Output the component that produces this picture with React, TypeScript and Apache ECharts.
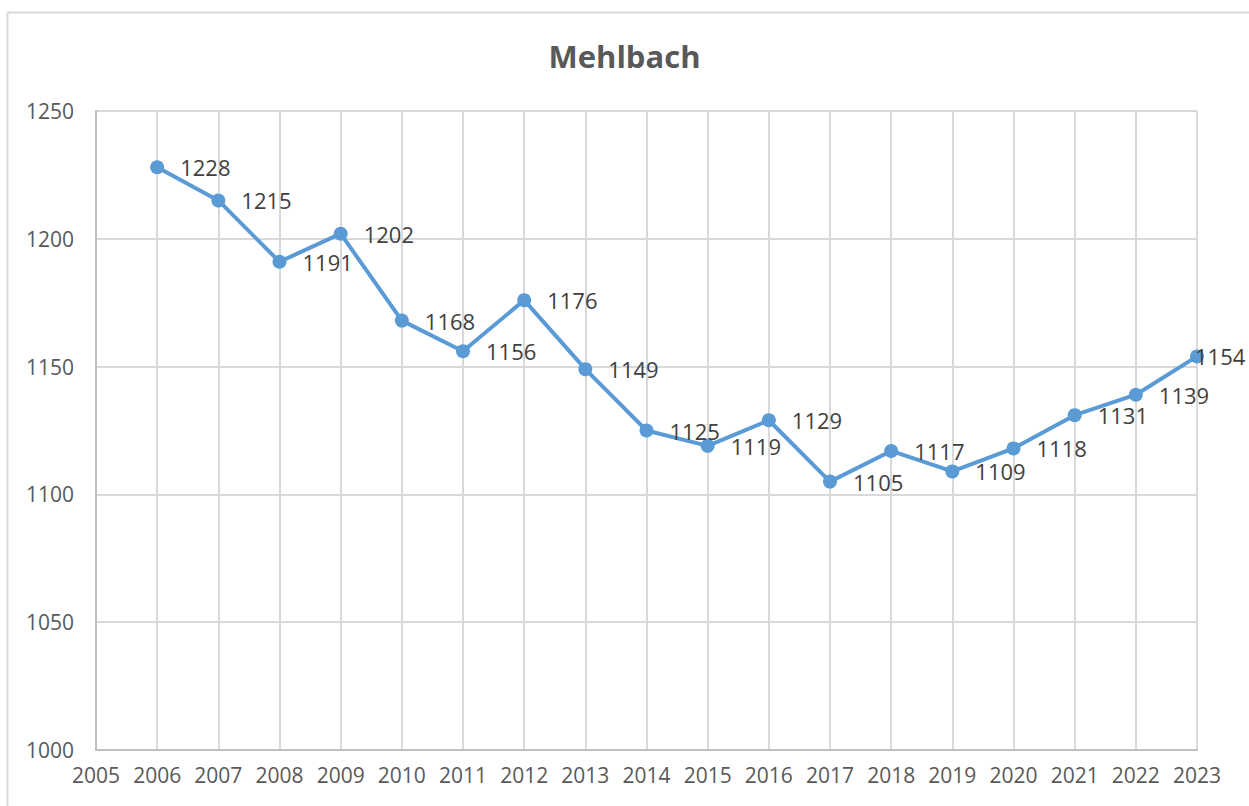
import React, { useEffect, useRef } from "react";
import * as echarts from "echarts";

const title = "Mehlbach";
const years = [2006, 2007, 2008, 2009, 2010, 2011, 2012, 2013, 2014, 2015, 2016, 2017, 2018, 2019, 2020, 2021, 2022, 2023];
const population = [1228, 1215, 1191, 1202, 1168, 1156, 1176, 1149, 1125, 1119, 1129, 1105, 1117, 1109, 1118, 1131, 1139, 1154];
const xMin = 2005;
const xMax = 2023;
const yMin = 1000;
const yMax = 1250;
const yStep = 50;

export default function App() {
  const ref = useRef<HTMLDivElement>(null);
  useEffect(() => {
    if (!ref.current) return;
    const chart = echarts.init(ref.current, undefined, { renderer: "svg" });
    const font = "'Open Sans', 'Noto Sans', sans-serif";
    const data = years.map((y, i) => {
      const item: any = { value: [y, population[i]] };
      if (i === years.length - 1) {
        item.label = { offset: [-25, 0] };
      }
      return item;
    });
    chart.setOption({
      animation: false,
      backgroundColor: "#ffffff",
      title: {
        text: title,
        left: "center",
        top: 35,
        textStyle: { fontFamily: font, fontSize: 31, fontWeight: "bold", color: "#595959" },
      },
      graphic: [
        {
          type: "rect",
          shape: { x: 7.5, y: 12.5, width: 1400, height: 900 },
          style: { fill: "none", stroke: "#d9d9d9", lineWidth: 2 },
          silent: true,
        },
      ],
      grid: { left: 96, right: 52, top: 111, bottom: 56 },
      xAxis: {
        type: "value",
        min: xMin,
        max: xMax,
        interval: 1,
        axisLine: { show: true, lineStyle: { color: "#bfbfbf", width: 2 } },
        axisTick: { show: false },
        axisLabel: {
          formatter: (v: number) => String(v),
          fontFamily: font,
          fontSize: 21,
          color: "#595959",
          margin: 14,
        },
        splitLine: { show: true, lineStyle: { color: "#d9d9d9", width: 2 } },
      },
      yAxis: {
        type: "value",
        min: yMin,
        max: yMax,
        interval: yStep,
        axisLine: { show: true, lineStyle: { color: "#bfbfbf", width: 2 } },
        axisTick: { show: false },
        axisLabel: {
          formatter: (v: number) => String(v),
          fontFamily: font,
          fontSize: 21,
          color: "#595959",
          margin: 22,
        },
        splitLine: { show: true, lineStyle: { color: "#d9d9d9", width: 2 } },
      },
      series: [
        {
          type: "line",
          data,
          symbol: "circle",
          symbolSize: 14,
          itemStyle: { color: "#5b9bd5" },
          lineStyle: { color: "#5b9bd5", width: 4 },
          label: {
            show: true,
            position: "right",
            distance: 16,
            fontFamily: font,
            fontSize: 22,
            color: "#404040",
            formatter: (p: any) => String(p.value[1]),
          },
          clip: false,
        },
      ],
    });
    return () => chart.dispose();
  }, []);
  return (
    <div
      ref={ref}
      style={{ position: "fixed", left: 0, top: 0, width: 1249, height: 806 }}
    />
  );
}
